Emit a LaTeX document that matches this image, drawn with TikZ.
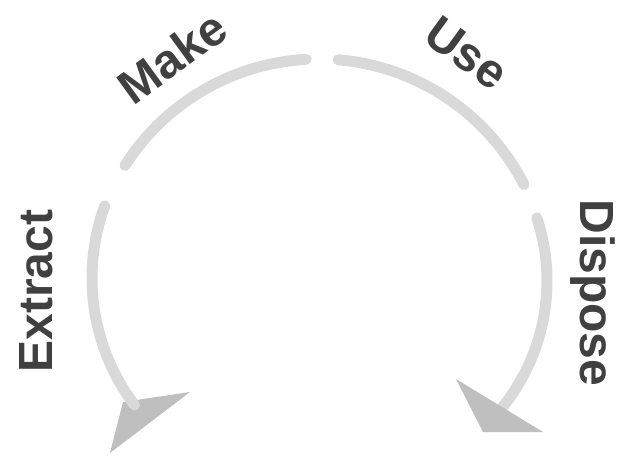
\documentclass[tikz,border=0pt]{standalone}
\usepackage{fontspec}
\setmainfont{Liberation Sans}
\usetikzlibrary{positioning}
\definecolor{arcgray}{HTML}{D9D9D9}
\definecolor{headgray}{HTML}{BFBFBF}
\definecolor{textgray}{HTML}{404040}

\begin{document}
\begin{tikzpicture}[x=1pt, y=1pt,
            stage/.style={font=\bfseries\fontsize{48}{48}\selectfont, text=textgray, inner sep=0pt},
            cyclearc/.style={draw=arcgray, line width=11pt, line cap=round},
            head/.style={fill=headgray, draw=none}]
            \useasboundingbox (0,0) rectangle (620,455);

            % Left arrow head (under its arc)
            \coordinate (lh1) at (190,63);
            \coordinate (lh2) at (123,53);
            \coordinate (lh3) at (110,2);
            \fill [head] (lh1) -- (lh2) -- (lh3) -- cycle;

            % Arcs
            \draw [cyclearc] (319,166) ++(147.5:230) arc[start angle=147.5, end angle=93.2, radius=230];
            \draw [cyclearc] (319,166) ++(85.2:230) arc[start angle=85.2, end angle=27, radius=230];
            \draw [cyclearc] (303,177) ++(160:211) arc[start angle=160, end angle=217, radius=211];
            \draw [cyclearc] (346,174) ++(18.3:201) arc[start angle=18.3, end angle=-38.7, radius=201];

            % Right arrow head (over its arc)
            \coordinate (rh1) at (456,76);
            \coordinate (rh2) at (483,23);
            \coordinate (rh3) at (543,23);
            \fill [head] (rh1) -- (rh2) -- (rh3) -- cycle;

            % Labels
            \node (make) [stage, rotate=36] at (172,398) {Make};
            \node (use) [stage, rotate=-36] at (467,402) {Use};
            \node (extract) [stage, rotate=90] at (36,164) {Extract};
            \node (dispose) [stage, rotate=-90] at (593,162) {Dispose};
        \end{tikzpicture}
\end{document}
